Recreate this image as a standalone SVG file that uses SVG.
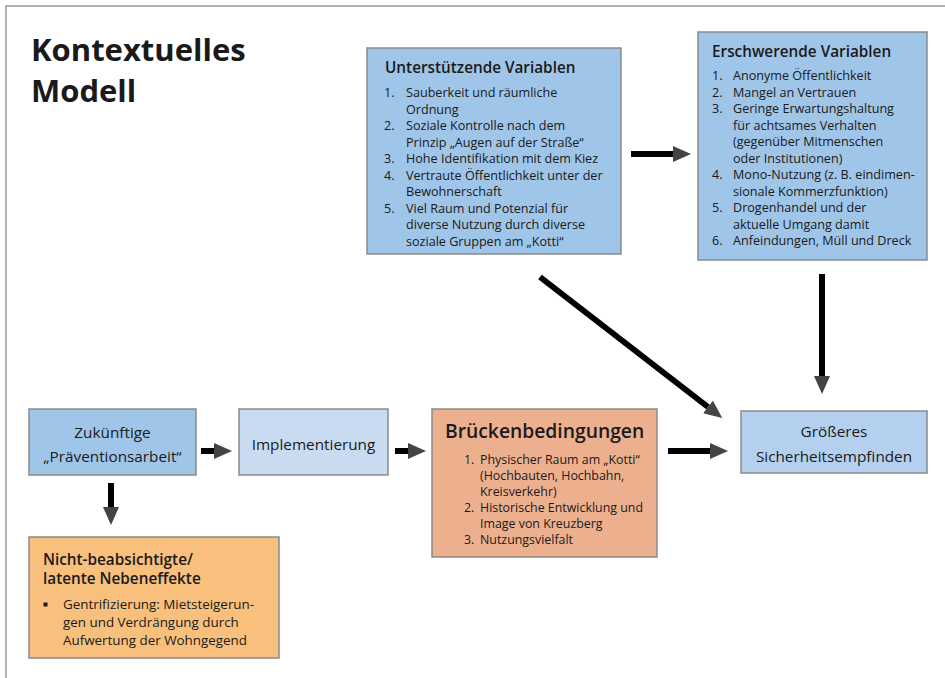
<svg xmlns="http://www.w3.org/2000/svg" width="945" height="678" viewBox="0 0 945 678">
<defs>
<style>
text{font-family:"Open Sans","Liberation Sans",Arial,sans-serif;fill:#1a1a1a}
.box{stroke:#8a8a8a;stroke-width:1.5}
.t{font-size:12.6px}
.h{font-size:15.3px;font-weight:600}
.c{font-size:15.3px;text-anchor:middle}
.conn line{stroke:#000;stroke-width:6;marker-end:url(#ah)}
</style>
<marker id="ah" viewBox="0 0 18 16" refX="0" refY="8" markerWidth="18" markerHeight="16" markerUnits="userSpaceOnUse" orient="auto">
<path d="M0,0 L18,8 L0,16 Z" fill="#444"/>
</marker>
</defs>
<rect width="945" height="678" fill="#fff"/>
<path d="M6,678 V6 H945" fill="none" stroke="#999" stroke-width="1.5"/>
<g id="title">
<text x="31" y="61" font-size="31" font-weight="700">Kontextuelles</text>
<text x="31" y="102" font-size="31" font-weight="700">Modell</text>
</g>
<g id="unterstuetzende">
<rect class="box" x="367" y="48" width="254" height="206" fill="#9fc5e8"/>
<text class="h" x="385" y="73">Unterstützende Variablen</text>
<g class="t">
<text x="384" y="97">1.</text><text x="406" y="97">Sauberkeit und räumliche</text>
<text x="406" y="113.5">Ordnung</text>
<text x="384" y="130">2.</text><text x="406" y="130">Soziale Kontrolle nach dem</text>
<text x="406" y="146.5">Prinzip „Augen auf der Straße“</text>
<text x="384" y="163">3.</text><text x="406" y="163">Hohe Identifikation mit dem Kiez</text>
<text x="384" y="179.5">4.</text><text x="406" y="179.5">Vertraute Öffentlichkeit unter der</text>
<text x="406" y="196">Bewohnerschaft</text>
<text x="384" y="212.5">5.</text><text x="406" y="212.5">Viel Raum und Potenzial für</text>
<text x="406" y="229">diverse Nutzung durch diverse</text>
<text x="406" y="245.5">soziale Gruppen am „Kotti“</text>
</g>
</g>
<g id="erschwerende">
<rect class="box" x="698" y="32" width="229" height="228" fill="#9fc5e8"/>
<text class="h" x="712" y="57">Erschwerende Variablen</text>
<g class="t">
<text x="712" y="80">1.</text><text x="733" y="80">Anonyme Öffentlichkeit</text>
<text x="712" y="96.5">2.</text><text x="733" y="96.5">Mangel an Vertrauen</text>
<text x="712" y="113">3.</text><text x="733" y="113">Geringe Erwartungshaltung</text>
<text x="733" y="129.5">für achtsames Verhalten</text>
<text x="733" y="146">(gegenüber Mitmenschen</text>
<text x="733" y="162.5">oder Institutionen)</text>
<text x="712" y="179">4.</text><text x="733" y="179">Mono-Nutzung (z. B. eindimen-</text>
<text x="733" y="195.5">sionale Kommerzfunktion)</text>
<text x="712" y="212">5.</text><text x="733" y="212">Drogenhandel und der</text>
<text x="733" y="228.5">aktuelle Umgang damit</text>
<text x="712" y="245">6.</text><text x="733" y="245">Anfeindungen, Müll und Dreck</text>
</g>
</g>
<g id="zukuenftige">
<rect class="box" x="29" y="409" width="167" height="66" fill="#9fc5e8"/>
<text class="c" x="112.5" y="438">Zukünftige</text>
<text class="c" x="112.5" y="462">„Präventionsarbeit“</text>
</g>
<g id="implementierung">
<rect class="box" x="239" y="409" width="149" height="66" fill="#c9dbf1"/>
<text class="c" x="313.5" y="450">Implementierung</text>
</g>
<g id="brueckenbedingungen">
<rect class="box" x="432" y="409" width="225" height="148" fill="#edb08f"/>
<text x="445" y="438" font-size="19.3" font-weight="600">Brückenbedingungen</text>
<g style="font-size:12.4px">
<text x="464" y="464">1.</text><text x="480" y="464">Physischer Raum am „Kotti“</text>
<text x="480" y="480">(Hochbauten, Hochbahn,</text>
<text x="480" y="496">Kreisverkehr)</text>
<text x="464" y="512">2.</text><text x="480" y="512">Historische Entwicklung und</text>
<text x="480" y="528">Image von Kreuzberg</text>
<text x="464" y="544">3.</text><text x="480" y="544">Nutzungsvielfalt</text>
</g>
</g>
<g id="groesseres">
<rect class="box" x="741" y="411" width="186" height="62" fill="#b4d0ee"/>
<text class="c" x="834" y="437">Größeres</text>
<text class="c" x="834" y="462">Sicherheitsempfinden</text>
</g>
<g id="nebeneffekte">
<rect class="box" x="29" y="537" width="250" height="121" fill="#f8c07c"/>
<text class="h" x="43" y="565">Nicht-beabsichtigte/</text>
<text class="h" x="43" y="584">latente Nebeneffekte</text>
<rect x="43.5" y="602.5" width="4" height="4" fill="#1a1a1a"/>
<g style="font-size:13.4px">
<text x="63" y="609">Gentrifizierung: Mietsteigerun-</text>
<text x="63" y="627">gen und Verdrängung durch</text>
<text x="63" y="645">Aufwertung der Wohngegend</text>
</g>
</g>
<g id="connectors" class="conn">
<line x1="631" y1="154" x2="673" y2="154"/>
<line x1="540" y1="277" x2="708" y2="407"/>
<line x1="822" y1="274" x2="822" y2="376"/>
<line x1="668" y1="451" x2="710" y2="451"/>
<line x1="201" y1="451" x2="214" y2="451"/>
<line x1="395" y1="451" x2="408" y2="451"/>
<line x1="111" y1="483" x2="111" y2="507"/>
</g>
</svg>
